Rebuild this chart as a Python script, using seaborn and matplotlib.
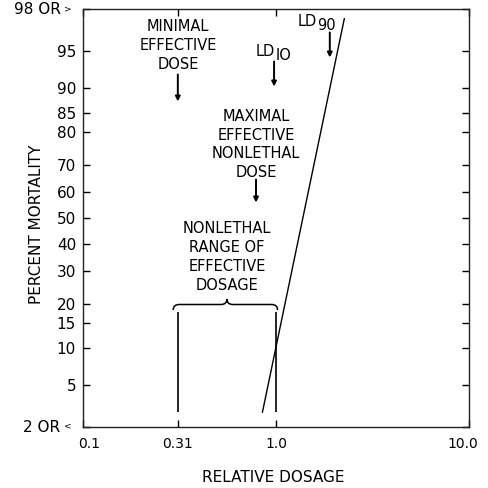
from statistics import NormalDist

import matplotlib
matplotlib.use("Agg")
import matplotlib.pyplot as plt
import matplotlib.transforms as mtransforms
from matplotlib.path import Path
from matplotlib.patches import PathPatch
import numpy as np
import pandas as pd
import seaborn as sns

# Dose-response line (log dose vs probit of mortality)
dose = [0.85, 2.26]
mortality = [2.8, 97.5]

# Axis ticks
x_ticks = [0.1, 0.31, 1.0, 10.0]
x_tick_labels = ["0.1", "0.31", "1.0", "10.0"]
y_ticks = [2, 5, 10, 15, 20, 30, 40, 50, 60, 70, 80, 85, 90, 95, 98]
y_tick_labels = ["", "5", "10", "15", "20", "30", "40", "50", "60", "70",
                 "80", "85", "90", "95", ""]

# Reference doses
minimal_effective = 0.31
ld10 = 1.0
ld90 = 1.9
range_bounds = [0.31, 1.0]
range_pct = [2.8, 17.8]

nd = NormalDist()


def probit(p):
    if np.ndim(p) == 0:
        return nd.inv_cdf(float(p) / 100.0)
    return np.array([nd.inv_cdf(v / 100.0) for v in p])


sns.set_theme(style="ticks")
plt.rcParams["font.family"] = ["DejaVu Sans"]

fig = plt.figure(figsize=(4.88, 4.88), dpi=100)
ax = fig.add_axes([83 / 488, 61 / 488, 386 / 488, 418 / 488])

df = pd.DataFrame({"dose": dose, "z": probit(mortality)})
sns.lineplot(data=df, x="dose", y="z", ax=ax, color="black", lw=1.0)

ax.set_xscale("log")
ax.set_xlim(0.1, 10.0)
ax.set_ylim(probit(2), probit(98))

ax.set_xticks(x_ticks)
ax.set_xticklabels(x_tick_labels)
ax.xaxis.set_minor_locator(matplotlib.ticker.NullLocator())
ax.set_yticks(probit(y_ticks))
ax.set_yticklabels(y_tick_labels)
ax.yaxis.set_minor_locator(matplotlib.ticker.NullLocator())

ax.tick_params(axis="both", direction="in", top=True, right=True,
               length=5, width=1.0, color="black", labelcolor="black")
ax.tick_params(axis="x", labelsize=10, pad=7)
ax.tick_params(axis="y", labelsize=11, pad=5)
for s in ax.spines.values():
    s.set_color("#222222")
    s.set_linewidth(1.0)

# Pull the end dosage labels slightly inward
xlabels = ax.get_xticklabels()
xlabels[0].set_transform(xlabels[0].get_transform() +
                         mtransforms.ScaledTranslation(6 / 100, 0, fig.dpi_scale_trans))
xlabels[-1].set_transform(xlabels[-1].get_transform() +
                          mtransforms.ScaledTranslation(-6 / 100, 0, fig.dpi_scale_trans))

# End labels of the probit axis
ax.text(-0.058, 1.0, "98 OR", transform=ax.transAxes, ha="right",
        va="center", fontsize=11, color="black")
ax.text(-0.039, 1.0, ">", transform=ax.transAxes, ha="center",
        va="center", fontsize=6.5, color="black")
ax.text(-0.058, 0.0, "2 OR", transform=ax.transAxes, ha="right",
        va="center", fontsize=11, color="black")
ax.text(-0.039, 0.003, "<", transform=ax.transAxes, ha="center",
        va="center", fontsize=6.5, color="black")

ax.set_xlabel("")
ax.set_ylabel("")
fig.text(273 / 488, 1 - 478 / 488, "RELATIVE DOSAGE", ha="center",
         va="center", fontsize=11, color="black")
fig.text(37 / 488, 1 - 224 / 488, "PERCENT MORTALITY", ha="center",
         va="center", rotation=90, fontsize=11, color="black")

ann_fs = 10.5
ls = 1.32
arrow = dict(arrowstyle="-|>", color="black", lw=1.4, mutation_scale=7,
             shrinkA=0, shrinkB=0)


def yfrac(px):
    return 1 - (px - 9.5) / 418


def xfrac(x):
    return (np.log10(x) + 1) / 2


# Minimal effective dose
ax.text(xfrac(minimal_effective), yfrac(46), "MINIMAL\nEFFECTIVE\nDOSE",
        transform=ax.transAxes, ha="center", va="center", fontsize=ann_fs,
        linespacing=ls, color="black")
ax.annotate("", xy=(xfrac(minimal_effective), yfrac(102)),
            xytext=(xfrac(minimal_effective), yfrac(75)),
            xycoords="axes fraction", textcoords="axes fraction",
            arrowprops=arrow)

# LD10
ax.text(xfrac(ld10) - 0.003, yfrac(52), "LD", transform=ax.transAxes,
        ha="right", va="center", fontsize=ann_fs, color="black")
ax.text(xfrac(ld10) - 0.001, yfrac(56), "IO", transform=ax.transAxes,
        ha="left", va="center", fontsize=ann_fs, color="black")
ax.annotate("", xy=(xfrac(ld10) - 0.005, yfrac(87)),
            xytext=(xfrac(ld10) - 0.005, yfrac(62)),
            xycoords="axes fraction", textcoords="axes fraction",
            arrowprops=arrow)

# LD90
ax.text(xfrac(ld90) - 0.034, yfrac(22), "LD", transform=ax.transAxes,
        ha="right", va="center", fontsize=ann_fs, color="black")
ax.text(xfrac(ld90) - 0.033, yfrac(26), "90", transform=ax.transAxes,
        ha="left", va="center", fontsize=ann_fs, color="black")
ax.annotate("", xy=(xfrac(ld90), yfrac(58)),
            xytext=(xfrac(ld90), yfrac(33)),
            xycoords="axes fraction", textcoords="axes fraction",
            arrowprops=arrow)

# Maximal effective nonlethal dose
mx = (256 - 83) / 386
ax.text(mx, yfrac(145), "MAXIMAL\nEFFECTIVE\nNONLETHAL\nDOSE",
        transform=ax.transAxes, ha="center", va="center", fontsize=ann_fs,
        linespacing=ls, color="black")
ax.annotate("", xy=(mx, yfrac(203)), xytext=(mx, yfrac(180)),
            xycoords="axes fraction", textcoords="axes fraction",
            arrowprops=arrow)

# Nonlethal range of effective dosage
x0, x1 = xfrac(range_bounds[0]), xfrac(range_bounds[1])
xm = (x0 + x1) / 2
ax.text(xm, yfrac(257.5), "NONLETHAL\nRANGE OF\nEFFECTIVE\nDOSAGE",
        transform=ax.transAxes, ha="center", va="center", fontsize=ann_fs,
        linespacing=ls, color="black")
ax.vlines(range_bounds, probit(range_pct[0]), probit(range_pct[1]),
          color="black", lw=1.2)

# Curly brace over the range
yb = yfrac(305)
h = 5.5 / 418
w = 6 / 386
xa, xb = x0 - 0.012, x1 + 0.004
verts = [
    (xa, yb - h), (xa, yb), (xa + w, yb),
    (xm - w, yb),
    (xm, yb), (xm, yb + h),
    (xm, yb), (xm + w, yb),
    (xb - w, yb),
    (xb, yb), (xb, yb - h),
]
codes = [Path.MOVETO, Path.CURVE3, Path.CURVE3,
         Path.LINETO,
         Path.CURVE3, Path.CURVE3,
         Path.CURVE3, Path.CURVE3,
         Path.LINETO,
         Path.CURVE3, Path.CURVE3]
ax.add_patch(PathPatch(Path(verts, codes), transform=ax.transAxes,
                       fill=False, lw=1.1, edgecolor="black"))

fig.savefig("out.png", dpi=100, facecolor="white")
